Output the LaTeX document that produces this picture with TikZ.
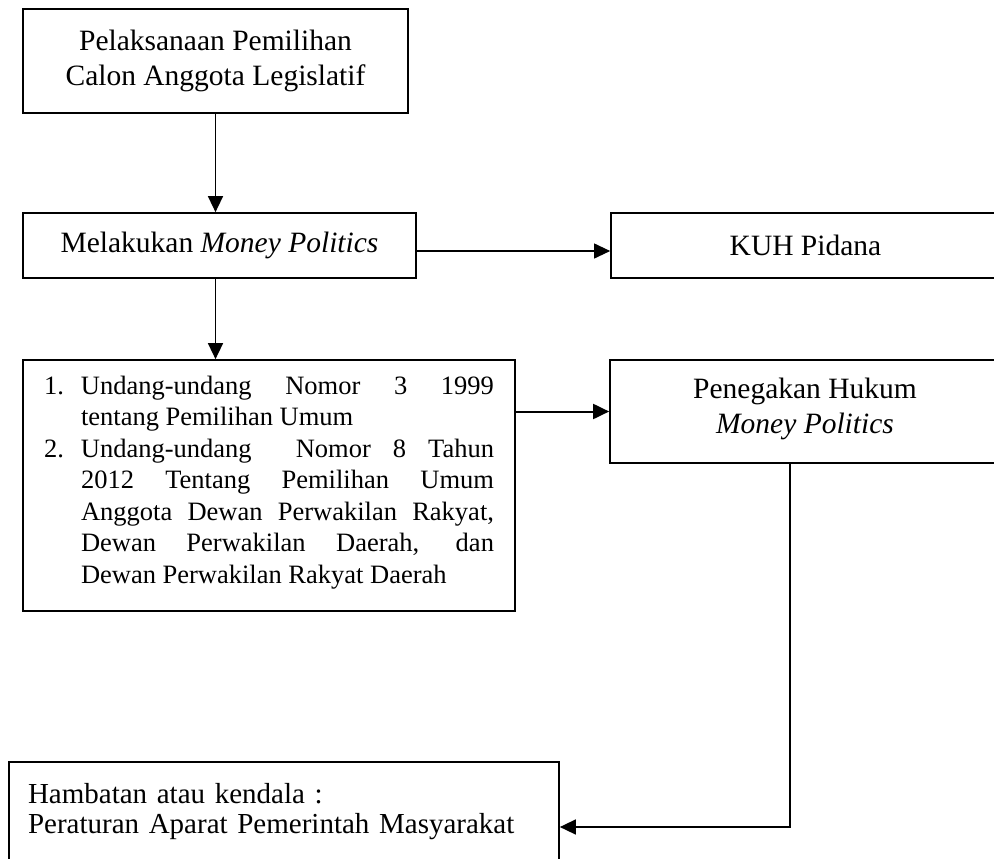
\documentclass[tikz,border=0pt]{standalone}
\usepackage{fontspec}
\setmainfont{Liberation Serif}
\usetikzlibrary{arrows.meta,calc}
\newcommand\jline[1]{\makebox[413pt][s]{#1}}
\begin{document}
\begin{tikzpicture}[x=1pt,y=-1pt,
  box/.style={draw,line width=1.7pt,rectangle,inner sep=0pt,align=center},
  arr/.style={-{Triangle[length=16pt,width=15pt]},line width=1.5pt},
  big/.style={font=\fontsize{29.5}{35}\selectfont},
]
\useasboundingbox (0,0) rectangle (994,859);
\node[box,big,minimum width=385pt,minimum height=104pt] (b1) at (215.5,61)
  {Pelaksanaan Pemilihan\\Calon Anggota Legislatif\rule[-3pt]{0pt}{0pt}};
\node[box,big,minimum width=393pt,minimum height=65pt] (b2) at (219.5,245.5)
  {Melakukan \textit{Money Politics}};
\node[box,big,minimum width=389pt,minimum height=65pt] (kuh) at (805.5,245.5)
  {KUH Pidana};
\node[box,minimum width=492pt,minimum height=251pt] (b3) at (269,485.5)
  {\parbox{450pt}{\fontsize{26.5}{31.5}\selectfont
   \makebox[37pt][l]{1.}\jline{Undang-undang Nomor 3 1999}\\
   \hspace*{37pt}tentang Pemilihan Umum\\
   \makebox[37pt][l]{2.}\jline{Undang-undang \ Nomor 8 Tahun}\\
   \hspace*{37pt}\jline{2012 Tentang Pemilihan Umum}\\
   \hspace*{37pt}\jline{Anggota Dewan Perwakilan Rakyat,}\\
   \hspace*{37pt}\jline{Dewan Perwakilan Daerah, dan}\\
   \hspace*{37pt}Dewan Perwakilan Rakyat Daerah\rule[-12pt]{0pt}{0pt}}};
\node[box,big,minimum width=390pt,minimum height=103pt] (b4) at (805,411.5)
  {Penegakan Hukum\\\textit{Money Politics}\rule[-12pt]{0pt}{0pt}};
\node[box,big,align=left,text width=512pt,inner xsep=19pt,minimum height=100pt,
  font=\fontsize{29}{30}\selectfont] (b5) at (284,812)
  {Hambatan atau kendala :\\Peraturan Aparat Pemerintah Masyarakat\rule[-7pt]{0pt}{0pt}};
\draw[arr] (b1.south) -- (b1.south |- b2.north);
\draw[arr] (b2.south -| b1.south) -- (b3.north -| b1.south);
\draw[arr,line width=1.1pt] ($(b2.east)+(0,5.5)$) -- ($(kuh.west)+(0,5.5)$);
\draw[arr,line width=2pt] (b3.east |- b4.west) -- (b4.west);
\draw[arr] ($(b4.south)+(-15,0)$) |- ($(b5.east)+(0,15)$);
\end{tikzpicture}
\end{document}
